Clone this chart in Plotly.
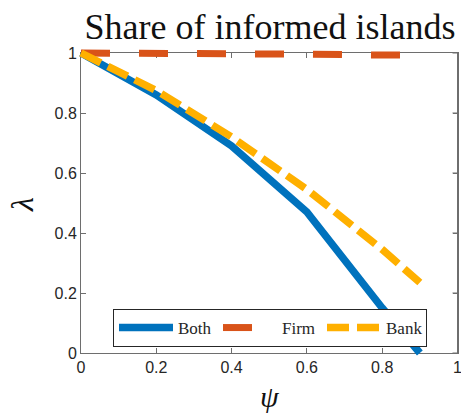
import plotly.graph_objects as go

psi = [0.0, 0.2, 0.4, 0.6, 0.8, 0.9]
both = [1.0, 0.86, 0.69, 0.47, 0.15, 0.0]
firm = [1.0, 1.0, 1.0, 0.996, 0.993, 0.993]
bank = [1.0, 0.875, 0.72, 0.545, 0.345, 0.235]
tick_vals = [0, 0.2, 0.4, 0.6, 0.8, 1]
tick_text = ["0", "0.2", "0.4", "0.6", "0.8", "1"]
series_names = ["Both", "Firm", "Bank"]

W, H = 461, 413
ML, MR, MT, MB = 71, 0, 43, 50
pw, ph = W - ML - MR, H - MT - MB
# frame box in pixels
fx0, fx1, fy0, fy1 = 81, 457.5, 53, 353
xd = [(fx0 - ML) / pw, (fx1 - ML) / pw]
yd = [(H - MB - fy1) / ph, (H - MB - fy0) / ph]
ux = fx1 - fx0
uy = fy1 - fy0
xr2 = [-(fx0 - ML) / ux, 1 + (W - MR - fx1) / ux]
yr2 = [-(H - MB - fy1) / uy, 1 + (fy0 - MT) / uy]

fig = go.Figure()
# invisible trace so the frame subplot is drawn
fig.add_trace(go.Scatter(x=[0, 1], y=[0, 1], mode="lines", line=dict(width=0),
                         showlegend=False, hoverinfo="skip", opacity=0))
styles = [
    dict(color="#0072BD", width=7.5, dash="solid"),
    dict(color="#D95319", width=7, dash="29px,29px"),
    dict(color="#FFB000", width=7.5, dash="22px,8px"),
]
for name, ys, st in zip(series_names, [both, firm, bank], styles):
    fig.add_trace(go.Scatter(x=psi, y=ys, mode="lines", name=name,
                             line=st, xaxis="x2", yaxis="y2"))

axcol = "#6e6e6e"
common = dict(showgrid=False, zeroline=False, showline=True, linecolor=axcol,
              linewidth=1, mirror="ticks", ticks="inside", ticklen=5,
              tickcolor=axcol, tickwidth=1, automargin=False,
              ticklabeloverflow="allow",
              tickfont=dict(family="Liberation Sans", size=16, color="#262626"),
              range=[0, 1], tickvals=tick_vals, ticktext=tick_text)

# right-hand frame edge and its inward ticks, in paper coordinates
xr_paper = xd[1]
tick_paper = 5 / pw
shapes = [dict(type="line", xref="paper", yref="paper", x0=xr_paper, x1=xr_paper,
               y0=yd[0], y1=yd[1], line=dict(color=axcol, width=1), layer="above")]
for tv in tick_vals:
    yp = yd[0] + tv * (yd[1] - yd[0])
    shapes.append(dict(type="line", xref="paper", yref="paper",
                       x0=xr_paper - tick_paper, x1=xr_paper, y0=yp, y1=yp,
                       line=dict(color=axcol, width=1), layer="above"))

fig.update_layout(
    width=W, height=H, margin=dict(l=ML, r=MR, t=MT, b=MB, autoexpand=False),
    paper_bgcolor="white", plot_bgcolor="rgba(0,0,0,0)",
    xaxis=dict(domain=xd, anchor="y", **common),
    yaxis=dict(domain=yd, anchor="x", **common),
    xaxis2=dict(domain=[0, 1], range=xr2, visible=False, anchor="y2"),
    yaxis2=dict(domain=[0, 1], range=yr2, visible=False, anchor="x2"),
    shapes=shapes,
    showlegend=True,
    legend=dict(orientation="h", x=(270 - ML) / pw, xanchor="center",
                y=(H - MB - 328) / ph, yanchor="middle",
                bgcolor="white", bordercolor="#262626", borderwidth=1,
                font=dict(family="Liberation Serif", size=17, color="#262626"),
                itemwidth=54, entrywidth=35, tracegroupgap=0),
    title=dict(text="Share of informed islands", x=(270 - ML) / pw,
               xref="paper", xanchor="center", y=1 - 26 / H, yref="container",
               yanchor="middle",
               font=dict(family="Liberation Serif", size=36, color="#111111")),
    annotations=[
        dict(text="<i>ψ</i>", x=(270 - ML) / pw, xref="paper",
             y=(H - MB - 396) / ph, yref="paper", showarrow=False,
             xanchor="center", yanchor="middle",
             font=dict(family="Liberation Serif", size=30, color="#111111")),
        dict(text="<i>λ</i>", x=(22 - ML) / pw, xref="paper",
             y=(H - MB - 205) / ph, yref="paper", showarrow=False, textangle=-90,
             xanchor="center", yanchor="middle",
             font=dict(family="Liberation Serif", size=32, color="#111111")),
    ],
)
fig.write_html(
    "out.html",
    config={"displayModeBar": False},
    post_script="document.body.style.margin='0px';document.documentElement.style.overflow='hidden';document.body.style.overflow='hidden';",
)
